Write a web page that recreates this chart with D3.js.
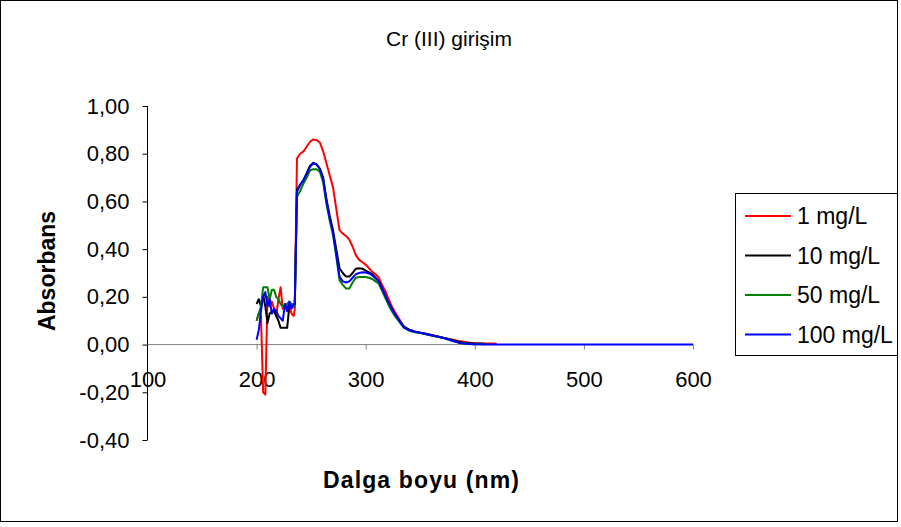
<!DOCTYPE html>
<html>
<head>
<meta charset="utf-8">
<script src="https://cdn.jsdelivr.net/npm/d3@7"></script>
<style>
  html, body { margin: 0; padding: 0; background: #fff; }
  svg { display: block; font-family: Arial, "Liberation Sans", sans-serif; }
</style>
</head>
<body>
<svg id="chart" width="901" height="527"></svg>
<script>
// ---- data ----
const title = "Cr (III) girişim";
const xTitle = "Dalga boyu (nm)";
const yTitle = "Absorbans";
const seriesNames = ["1 mg/L", "10 mg/L", "50 mg/L", "100 mg/L"];
const seriesColors = ["#FF0000", "#000000", "#008000", "#0000FF"];
const xTicks = [100, 200, 300, 400, 500, 600];
const yTicks = [-0.4, -0.2, 0, 0.2, 0.4, 0.6, 0.8, 1.0];

const wavelength = [
  200, 202, 204, 206, 208, 210, 212, 214, 216, 218, 220, 222, 224, 226, 228, 230, 232, 234, 235,
  237, 240, 243, 246, 249, 252, 255, 258, 261, 264, 267, 270, 273, 276, 279, 282, 285, 288, 291,
  294, 297, 300, 303, 306, 309, 312, 315, 318, 321, 324, 327, 330, 335, 340, 345, 350, 355, 360,
  365, 370, 375, 380, 385, 390, 395, 400, 405, 410, 415, 420, 450, 500, 550, 600
];
const abs1 = [
  0.10, 0.13, 0.12, -0.20, -0.21, 0.20, 0.16, 0.18, 0.15, 0.12, 0.19, 0.24, 0.15, 0.17, 0.16, 0.16, 0.13, 0.12, 0.15,
  0.78, 0.80, 0.81, 0.83, 0.85, 0.86, 0.857, 0.847, 0.81, 0.76, 0.71, 0.66, 0.57, 0.48, 0.465, 0.455, 0.44, 0.41, 0.375,
  0.355, 0.345, 0.335, 0.32, 0.305, 0.295, 0.28, 0.25, 0.225, 0.19, 0.16, 0.135, 0.112, 0.075, 0.062, 0.055, 0.05, 0.045, 0.04,
  0.035, 0.03, 0.025, 0.02, 0.015, 0.012, 0.008, 0.006, 0.005, 0.004, 0.004, 0.003, null, null, null, null
];
const abs10 = [
  0.17, 0.19, 0.16, 0.21, 0.16, 0.09, 0.13, 0.14, 0.14, 0.12, 0.10, 0.07, 0.07, 0.07, 0.07, 0.16, 0.17, 0.16, 0.17,
  0.65, 0.67, 0.69, 0.72, 0.75, 0.762, 0.755, 0.738, 0.70, 0.61, 0.54, 0.48, 0.40, 0.32, 0.30, 0.285, 0.285, 0.30, 0.318,
  0.32, 0.318, 0.31, 0.303, 0.295, 0.28, 0.265, 0.235, 0.205, 0.175, 0.15, 0.125, 0.105, 0.075, 0.062, 0.055, 0.05, 0.045, 0.04,
  0.035, 0.03, 0.025, 0.018, 0.012, 0.008, 0.006, 0.005, 0.004, 0.002, null, null, null, null, null, null
];
const abs50 = [
  0.10, 0.13, 0.16, 0.24, 0.24, 0.24, 0.19, 0.23, 0.23, 0.20, 0.19, 0.17, 0.16, 0.16, 0.17, 0.18, 0.17, 0.16, 0.17,
  0.62, 0.645, 0.675, 0.70, 0.73, 0.735, 0.735, 0.725, 0.68, 0.59, 0.52, 0.46, 0.37, 0.27, 0.25, 0.235, 0.235, 0.26, 0.28,
  0.283, 0.283, 0.283, 0.28, 0.275, 0.265, 0.255, 0.225, 0.195, 0.165, 0.14, 0.118, 0.10, 0.07, 0.058, 0.052, 0.048, 0.043, 0.038,
  0.034, 0.029, 0.022, 0.015, 0.008, 0.004, 0.002, 0.001, 0.001, 0.001, null, null, null, null, null, null
];
const abs100 = [
  0.02, 0.06, 0.14, 0.20, 0.22, 0.16, 0.19, 0.13, 0.15, 0.14, 0.12, 0.11, 0.10, 0.17, 0.14, 0.18, 0.15, 0.17, 0.17,
  0.64, 0.67, 0.69, 0.715, 0.745, 0.76, 0.755, 0.735, 0.695, 0.60, 0.53, 0.47, 0.38, 0.285, 0.265, 0.26, 0.265, 0.28, 0.295,
  0.30, 0.303, 0.302, 0.298, 0.29, 0.278, 0.265, 0.235, 0.205, 0.175, 0.15, 0.125, 0.105, 0.073, 0.06, 0.054, 0.049, 0.044, 0.039,
  0.034, 0.029, 0.022, 0.015, 0.008, 0.004, 0.002, 0.001, 0.001, 0, 0, 0, 0, 0, 0, 0
];
const seriesValues = [abs1, abs10, abs50, abs100];

// ---- layout ----
const svg = d3.select("#chart");
const FONT = 'Arial, "Liberation Sans", sans-serif';
const plot = { left: 147.5, right: 693, top: 106, bottom: 440 };

const x = d3.scaleLinear().domain([100, 600]).range([plot.left, plot.right]);
const y = d3.scaleLinear().domain([-0.4, 1.0]).range([plot.bottom, plot.top]);
const fmt = v => d3.format(".2f")(v).replace(".", ",").replace("−", "-");

// outer border
svg.append("rect").attr("x", 0.5).attr("y", 0.5).attr("width", 897).attr("height", 521)
  .attr("fill", "#fff").attr("stroke", "#000").attr("stroke-width", 1);

// title
svg.append("text").attr("x", 449).attr("y", 46).attr("text-anchor", "middle")
  .attr("font-size", 21).text(title);

// y axis (black line with outside ticks)
const yAxis = d3.axisLeft(y).tickValues(yTicks).tickSize(5).tickPadding(13).tickFormat(fmt);
const gy = svg.append("g").attr("transform", `translate(${plot.left},0)`).call(yAxis);
gy.select(".domain").attr("stroke", "#000").attr("d", `M0,${plot.top}V${plot.bottom}`);
gy.selectAll(".tick line").attr("stroke", "#000");
gy.selectAll(".tick text").attr("font-size", 22).attr("fill", "#000").attr("font-family", FONT);

// x axis at zero (grey), labels set lower
const xAxis = d3.axisBottom(x).tickValues(xTicks).tickSize(5).tickFormat(d3.format("d"));
const gx = svg.append("g").attr("transform", `translate(0,${y(0)})`).call(xAxis);
gx.select(".domain").attr("stroke", "#808080").attr("d", `M${plot.left},0H${plot.right}`);
gx.selectAll(".tick line").attr("stroke", "#808080");
gx.selectAll(".tick").filter(d => d === 100).select("line").remove();
gx.selectAll(".tick text").attr("font-size", 22).attr("fill", "#000").attr("y", 42).attr("dy", 0)
  .attr("font-family", FONT);

// axis titles
svg.append("text").attr("x", 421).attr("y", 488).attr("text-anchor", "middle")
  .attr("font-size", 23).attr("font-weight", "bold")
  .attr("textLength", 196).attr("lengthAdjust", "spacing").text(xTitle);
svg.append("text").attr("transform", `translate(55,271) rotate(-90)`).attr("text-anchor", "middle")
  .attr("font-size", 23).attr("font-weight", "bold").text(yTitle);

// lines
const line = d3.line()
  .defined(d => d[1] !== null)
  .x(d => x(d[0])).y(d => y(d[1]));
seriesValues.forEach((vals, i) => {
  const pts = wavelength.map((w, j) => [w, vals[j]]);
  svg.append("path").datum(pts).attr("d", line)
    .attr("fill", "none").attr("stroke", seriesColors[i]).attr("stroke-width", 2)
    .attr("stroke-linejoin", "round");
});

// legend
const lg = svg.append("g");
lg.append("rect").attr("x", 735.5).attr("y", 193.5).attr("width", 162).attr("height", 162)
  .attr("fill", "#fff").attr("stroke", "#000");
seriesNames.forEach((n, i) => {
  const ly = 216 + i * 39.5;
  lg.append("line").attr("x1", 745).attr("x2", 791).attr("y1", ly).attr("y2", ly)
    .attr("stroke", seriesColors[i]).attr("stroke-width", 2);
  lg.append("text").attr("x", 797).attr("y", ly + 8).attr("font-size", 23).text(n);
});
</script>
</body>
</html>
